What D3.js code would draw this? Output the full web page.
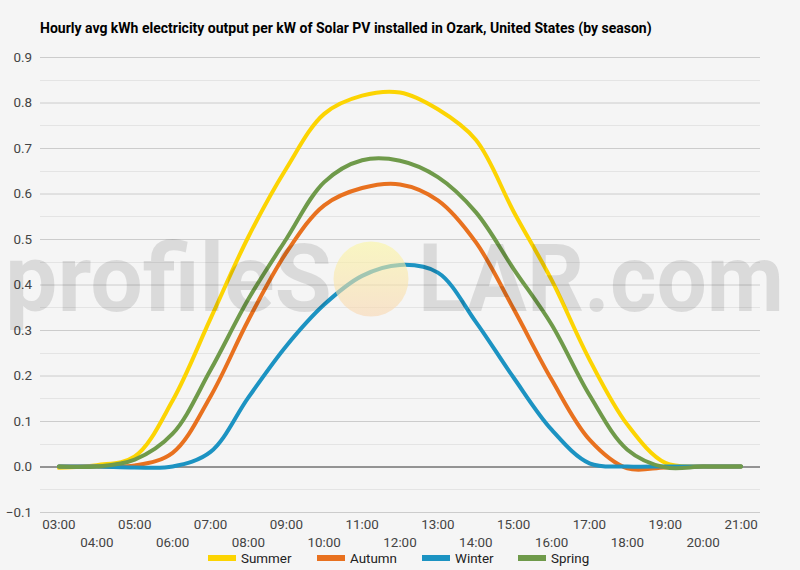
<!DOCTYPE html>
<html>
<head>
<meta charset="utf-8">
<script src="https://cdn.jsdelivr.net/npm/d3@7"></script>
<style>
  body { margin: 0; background: #f5f5f5; }
  svg { display: block; font-family: Roboto, "Noto Sans", sans-serif; }
</style>
</head>
<body>
<svg id="chart" width="800" height="570"></svg>
<script>
const hours = ["03:00","04:00","05:00","06:00","07:00","08:00","09:00","10:00","11:00","12:00",
               "13:00","14:00","15:00","16:00","17:00","18:00","19:00","20:00","21:00"];
const summer = [-0.003, 0.003, 0.022, 0.145, 0.325, 0.505, 0.655, 0.775, 0.815, 0.822,
                0.785, 0.718, 0.560, 0.410, 0.235, 0.092, 0.008, 0.000, 0.000];
const autumn = [0.000, 0.000, 0.002, 0.030, 0.154, 0.322, 0.470, 0.574, 0.612, 0.620,
                0.585, 0.493, 0.346, 0.191, 0.059, -0.004, -0.002, 0.000, 0.000];
const winter = [0.000, 0.000, -0.002, 0.000, 0.032, 0.152, 0.265, 0.356, 0.419, 0.443,
                0.426, 0.318, 0.195, 0.081, 0.007, 0.000, 0.000, 0.000, 0.000];
const spring = [0.000, 0.000, 0.015, 0.072, 0.212, 0.368, 0.500, 0.625, 0.673, 0.672,
                0.636, 0.559, 0.434, 0.312, 0.157, 0.037, -0.002, 0.000, 0.000];
const seriesNames = ["Summer", "Autumn", "Winter", "Spring"];
const seriesColors = ["#fcd402", "#e8711f", "#1c93c2", "#6f9a4a"];
const seriesData = [summer, autumn, winter, spring];
const yTicks = [-0.1, 0, 0.1, 0.2, 0.3, 0.4, 0.5, 0.6, 0.7, 0.8, 0.9];
const titleText = "Hourly avg kWh electricity output per kW of Solar PV installed in Ozark, United States (by season)";

(function () {
const svg = d3.select("#chart");
svg.append("rect").attr("width", 800).attr("height", 570).attr("fill", "#f5f5f5");

const pLeft = 40, pRight = 760, pTop = 57, pBottom = 512;
const x = d3.scaleBand().domain(hours).range([pLeft, pRight]);
const xc = h => x(h) + x.bandwidth() / 2;
const y = d3.scaleLinear().domain([-0.1, 0.9]).range([pBottom, pTop]);

// title
svg.append("text").attr("x", 40).attr("y", 33)
  .attr("font-size", 14).attr("font-weight", "bold").attr("fill", "#000")
  .text(titleText);

// minor grid
const minor = d3.range(-0.05, 0.9, 0.1);
svg.append("g").selectAll("line").data(minor).join("line")
  .attr("x1", pLeft).attr("x2", pRight)
  .attr("y1", d => Math.round(y(d)) + 0.5).attr("y2", d => Math.round(y(d)) + 0.5)
  .attr("stroke", "#e4e4e4").attr("stroke-width", 1);

// major grid via axis
const yAxis = d3.axisLeft(y).tickValues(yTicks).tickSize(-(pRight - pLeft))
  .tickFormat(d => d3.format(".1f")(d));
const gy = svg.append("g").attr("transform", `translate(${pLeft},0)`).call(yAxis);
gy.select(".domain").remove();
gy.selectAll(".tick line").attr("stroke", d => Math.abs(d) < 1e-9 ? "#333" : "#cccccc");
gy.selectAll(".tick text").attr("x", -8).attr("font-size", 13.4).attr("fill", "#444")
  .attr("font-family", "Roboto, sans-serif");

// x axis labels (staggered)
const xAxis = d3.axisBottom(x).tickSize(0).tickPadding(0);
const gx = svg.append("g").attr("transform", `translate(0,${pBottom})`).call(xAxis);
gx.select(".domain").remove();
gx.selectAll(".tick text")
  .attr("font-size", 13.4).attr("fill", "#444").attr("font-family", "Roboto, sans-serif")
  .attr("dy", null)
  .attr("y", (d, i) => i % 2 === 0 ? 17 : 35);

// lines
const line = d3.line()
  .x((d, i) => xc(hours[i]))
  .y(d => y(d))
  .curve(d3.curveCatmullRom.alpha(0.5));
svg.append("g").selectAll("path").data(seriesData).join("path")
  .attr("d", d => line(d))
  .attr("fill", "none")
  .attr("stroke", (d, i) => seriesColors[i])
  .attr("stroke-width", 4)
  .attr("stroke-linejoin", "round")
  .attr("stroke-linecap", "round");

// watermark
const defs = svg.append("defs");
const grad = defs.append("linearGradient").attr("id", "sun").attr("x1", 0).attr("y1", 0).attr("x2", 0).attr("y2", 1);
grad.append("stop").attr("offset", "0%").attr("stop-color", "#fbf6a0");
grad.append("stop").attr("offset", "100%").attr("stop-color", "#f9d6b0");
const wm = svg.append("g").attr("pointer-events", "none");
wm.append("circle").attr("cx", 371).attr("cy", 279).attr("r", 37.5)
  .attr("fill", "url(#sun)").attr("opacity", 0.6);
wm.append("text").attr("x", 5).attr("y", 311)
  .attr("font-size", 95).attr("font-weight", "bold").attr("font-family", "Roboto, sans-serif")
  .attr("fill", "rgba(0,0,0,0.11)")
  .attr("textLength", 327).attr("lengthAdjust", "spacingAndGlyphs")
  .text("profileS");
wm.append("text").attr("x", 418).attr("y", 311)
  .attr("font-size", 95).attr("font-weight", "bold").attr("font-family", "Roboto, sans-serif")
  .attr("fill", "rgba(0,0,0,0.11)")
  .attr("textLength", 366).attr("lengthAdjust", "spacingAndGlyphs")
  .text("LAR.com");

// legend
const legendX = [208, 317, 422, 518];
const lg = svg.append("g").selectAll("g").data(seriesNames).join("g")
  .attr("transform", (d, i) => `translate(${legendX[i]},558)`);
lg.append("rect").attr("x", 0).attr("y", -3).attr("width", 28).attr("height", 6)
  .attr("fill", (d, i) => seriesColors[i]);
lg.append("text").attr("x", 33).attr("y", 5).attr("font-size", 13.4).attr("fill", "#222")
  .text(d => d);
})();
</script>
</body>
</html>
